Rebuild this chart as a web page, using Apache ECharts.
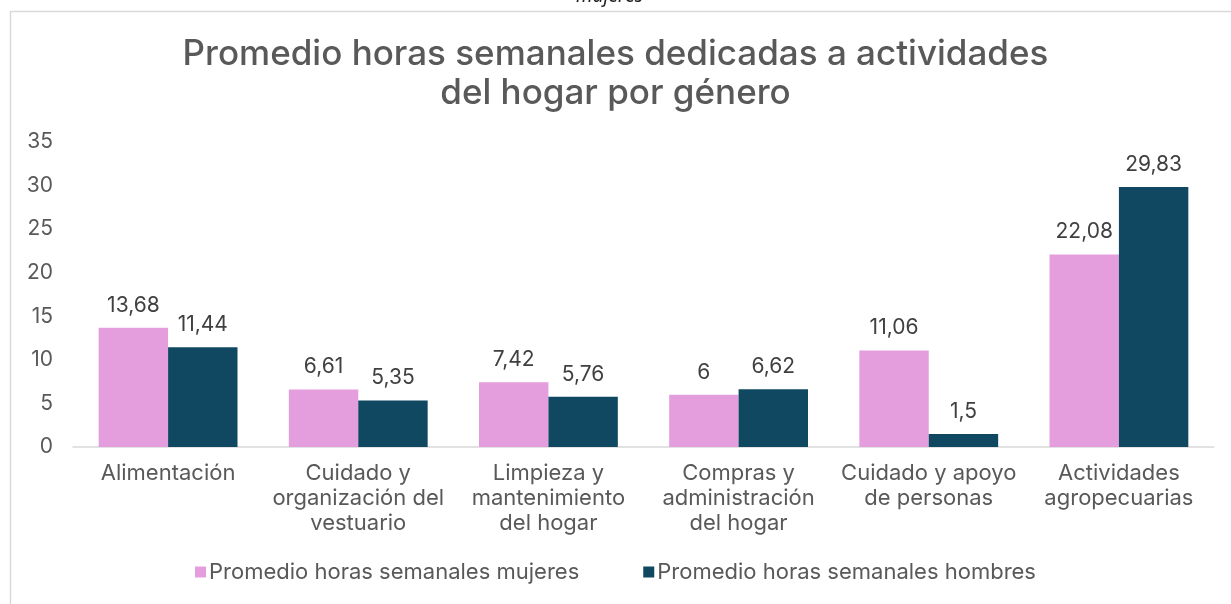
<!DOCTYPE html>
<html>
<head>
    <meta charset="utf-8">
    <title>ECharts</title>
    <script src="https://cdn.jsdelivr.net/npm/echarts@6/dist/echarts.min.js"></script>
    <style>
        html, body { margin: 0; padding: 0; background: #fff; }
    </style>
</head>
<body>
    <div id="main" style="width: 1231px;height:604px;"></div>
    <script type="text/javascript">
        // datos
        const categorias = [
            'Alimentación',
            'Cuidado y\norganización del\nvestuario',
            'Limpieza y\nmantenimiento\ndel hogar',
            'Compras y\nadministración\ndel hogar',
            'Cuidado y apoyo\nde personas',
            'Actividades\nagropecuarias'
        ]
        const mujeres = [13.68, 6.61, 7.42, 6, 11.06, 22.08]
        const hombres = [11.44, 5.35, 5.76, 6.62, 1.5, 29.83]
        const yTicks = [0, 5, 10, 15, 20, 25, 30, 35]

        const fuente = 'Inter'
        const coma = (v) => String(v).replace('.', ',')

        var myChart = echarts.init(document.getElementById('main'))
        var option = {
            backgroundColor: '#fff',
            textStyle: { fontFamily: fuente },
            graphic: [
                {
                    type: 'rect',
                    shape: { x: 10.5, y: 11.5, width: 1240, height: 620 },
                    style: { fill: 'none', stroke: '#d9d9d9', lineWidth: 1.5 }
                },
                {
                    type: 'text',
                    left: 576, top: -13,
                    style: { text: 'mujeres', fontSize: 19, fontStyle: 'italic', fill: '#222', fontFamily: 'Noto Sans' }
                }
            ],
            title: {
                text: 'Promedio horas semanales dedicadas a actividades\ndel hogar por género',
                left: 'center',
                top: 30,
                textStyle: {
                    fontSize: 35,
                    fontWeight: 500,
                    color: '#595959',
                    lineHeight: 39,
                    fontFamily: fuente
                }
            },
            legend: {
                bottom: 16,
                left: 'center',
                itemWidth: 11,
                itemHeight: 11,
                itemGap: 64,
                icon: 'rect',
                textStyle: { fontSize: 22, color: '#595959', fontFamily: fuente, padding: [0, 0, 0, -2] },
                data: ['Promedio horas semanales mujeres', 'Promedio horas semanales hombres']
            },
            grid: { left: 73, right: 17, top: 142, bottom: 157 },
            xAxis: {
                type: 'category',
                data: categorias,
                axisLine: { lineStyle: { color: '#d9d9d9', width: 1.5 } },
                axisTick: { show: false },
                axisLabel: {
                    fontSize: 22,
                    color: '#595959',
                    lineHeight: 25,
                    margin: 14,
                    interval: 0,
                    fontFamily: fuente
                }
            },
            yAxis: {
                type: 'value',
                min: yTicks[0],
                max: yTicks[yTicks.length - 1],
                interval: 5,
                splitLine: { show: false },
                axisLine: { show: false },
                axisLabel: { fontSize: 21, color: '#595959', margin: 20, fontFamily: fuente }
            },
            series: [
                {
                    name: 'Promedio horas semanales mujeres',
                    type: 'bar',
                    data: mujeres,
                    barGap: '0%',
                    barCategoryGap: '27%',
                    itemStyle: { color: '#e49edd' },
                    label: {
                        show: true, position: 'top', distance: 12,
                        fontSize: 21, color: '#404040', fontFamily: fuente,
                        formatter: (p) => coma(p.value)
                    }
                },
                {
                    name: 'Promedio horas semanales hombres',
                    type: 'bar',
                    data: hombres,
                    barGap: '0%',
                    barCategoryGap: '27%',
                    itemStyle: { color: '#104862' },
                    label: {
                        show: true, position: 'top', distance: 12,
                        fontSize: 21, color: '#404040', fontFamily: fuente,
                        formatter: (p) => coma(p.value)
                    }
                }
            ]
        }
        myChart.setOption(option)
    </script>
</body>
</html>
